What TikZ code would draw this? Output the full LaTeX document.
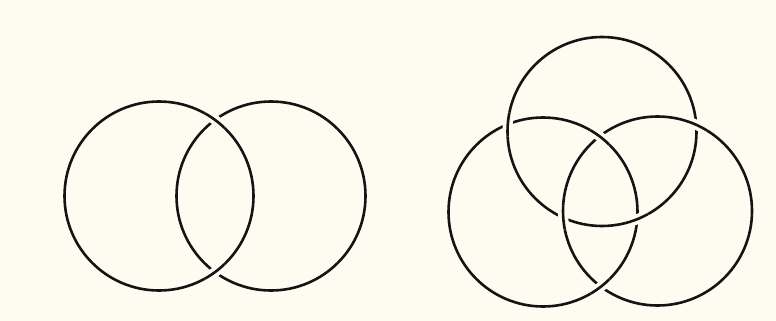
\documentclass[tikz,border=0pt]{standalone}
\usetikzlibrary{calc}
\definecolor{paper}{RGB}{254,252,240}
\definecolor{ink}{RGB}{20,20,20}

\begin{document}
\begin{tikzpicture}[
  x=1pt, y=-1pt,
  ring/.style={draw=ink, line width=2.6pt},
  gapline/.style={draw=paper, line width=10pt}
]
\fill[paper] (0,0) rectangle (776,321);
\useasboundingbox (0,0) rectangle (776,321);

% two circles
\coordinate (A) at (159,196);
\coordinate (B) at (271,196);
% three rings
\coordinate (T) at (602,131.5);
\coordinate (L) at (543,212);
\coordinate (R) at (657.5,211);

\foreach \c in {A,B,T,L,R}
  \draw[ring] (\c) circle (94.5pt);

% crossings
\coordinate (ab1) at (215,119.9);
\coordinate (ab2) at (215,272.1);
\coordinate (tl1) at (507.8,124.4);
\coordinate (tl2) at (637.2,219.2);
\coordinate (rt1) at (696.3,124.9);
\coordinate (rt2) at (563.2,217.7);
\coordinate (lr1) at (600.2,136.3);
\coordinate (lr2) at (600.2,286.7);

% over strands
\foreach \x/\o in {ab1/A, ab2/A, tl1/T, tl2/T, rt1/R, rt2/R, lr1/L, lr2/L} {
  \begin{scope}
    \clip (\x) circle (12pt);
    \draw[gapline] (\o) circle (94.5pt);
    \draw[ring] (\o) circle (94.5pt);
  \end{scope}
}
\end{tikzpicture}
\end{document}
